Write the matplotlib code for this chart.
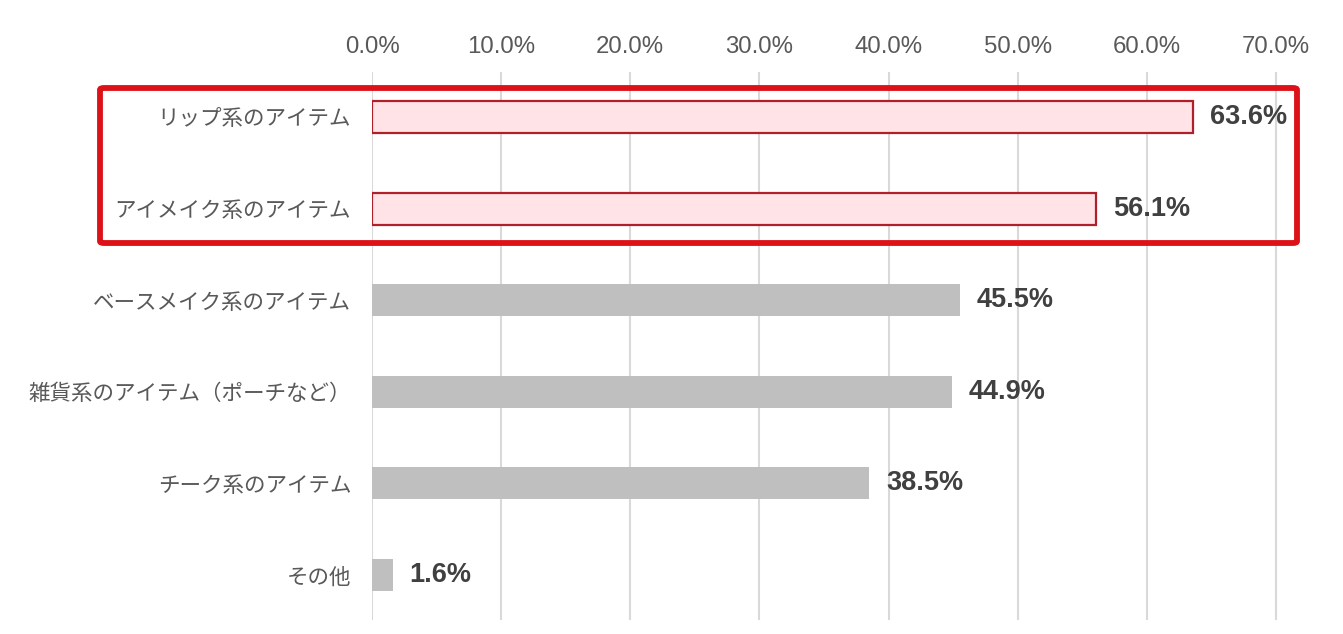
import matplotlib
matplotlib.use("Agg")
import matplotlib.pyplot as plt
from matplotlib.patches import FancyBboxPatch

categories = ["リップ系のアイテム", "アイメイク系のアイテム", "ベースメイク系のアイテム",
              "雑貨系のアイテム（ポーチなど）", "チーク系のアイテム", "その他"]
values = [63.6, 56.1, 45.5, 44.9, 38.5, 1.6]
highlight = [True, True, False, False, False, False]
xticks = [0, 10, 20, 30, 40, 50, 60, 70]
xtick_labels = ["0.0%", "10.0%", "20.0%", "30.0%", "40.0%", "50.0%", "60.0%", "70.0%"]

W, H = 1343, 634
fig = plt.figure(figsize=(W / 100, H / 100), dpi=100)
ax = fig.add_axes([372 / W, (H - 620) / H, 929.8 / W, 548 / H])

ypos = list(range(len(categories)))
for y, v, hl in zip(ypos, values, highlight):
    if hl:
        ax.barh(y, v, height=0.35, color="#FFE3E6", edgecolor="#B0202A", linewidth=1.6, zorder=3)
    else:
        ax.barh(y, v, height=0.35, color="#BFBFBF", edgecolor="none", zorder=3)
    ax.text(v + 1.3, y, f"{v:.1f}%", va="center", ha="left", fontsize=19.5,
            fontweight="bold", color="#404040", family=["Liberation Sans", "DejaVu Sans"])

ax.set_xlim(0, 72)
ax.set_ylim(5.49, -0.49)
ax.set_xticks(xticks)
ax.set_xticklabels(xtick_labels, family=["Liberation Sans", "DejaVu Sans"], fontsize=17.3, color="#595959")
ax.xaxis.tick_top()
ax.tick_params(axis="x", length=0, pad=10)
ax.set_yticks(ypos)
ax.set_yticklabels(categories, family=["Noto Sans CJK JP", "DejaVu Sans"], fontsize=15.5, color="#595959")
ax.tick_params(axis="y", length=0, pad=15)
ax.grid(axis="x", color="#D9D9D9", linewidth=1.5, zorder=0)
for s in ax.spines.values():
    s.set_visible(False)

# highlight frame around the top two items
box = FancyBboxPatch((100 / W, (H - 243) / H), (1297 - 100) / W, (243 - 88) / H,
                     boxstyle="round,pad=0,rounding_size=0.003", transform=fig.transFigure,
                     fill=False, edgecolor="#DD1118", linewidth=4.2, zorder=10)
fig.patches.append(box)

fig.savefig("out.png", dpi=100)
